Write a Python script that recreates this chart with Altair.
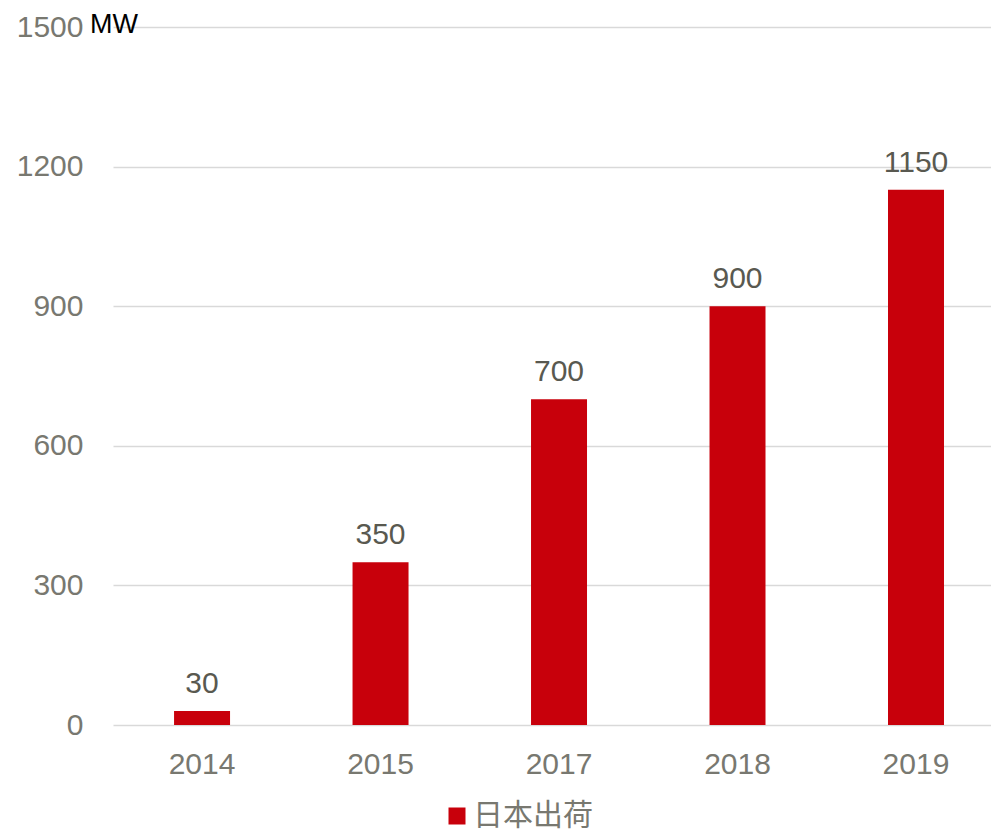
import altair as alt
import pandas as pd

years = ["2014", "2015", "2017", "2018", "2019"]
values = [30, 350, 700, 900, 1150]
series = ["日本出荷"] * len(years)
y_ticks = [0, 300, 600, 900, 1200, 1500]
y_domain = [0, 1500]
unit = "MW"

df = pd.DataFrame({"year": years, "value": values, "series": series})

FONT = "Liberation Sans, Noto Sans CJK SC"
CJK = "Noto Sans CJK SC, Liberation Sans"
RED = "#C8000B"
TICK = "#787870"
LABEL = "#595950"

yscale = alt.Scale(domain=y_domain, nice=False)

base = alt.Chart(df)

bars = base.mark_bar(color=RED).encode(
    x=alt.X("year:N", sort=years,
            scale=alt.Scale(paddingInner=0.6863, paddingOuter=0.3027, align=0.565),
            axis=alt.Axis(title=None, labelAngle=0, labelFont=FONT, labelFontSize=30,
                          labelColor=TICK, labelPadding=24, ticks=False, domain=False,
                          grid=False)),
    y=alt.Y("value:Q", scale=yscale,
            axis=alt.Axis(values=y_ticks, format="d", title=None,
                          labelFont=FONT, labelFontSize=30, labelColor=TICK,
                          labelPadding=30, ticks=False, domain=False,
                          gridColor="#d9d9d9", gridWidth=1.5)),
    fill=alt.Fill("series:N", scale=alt.Scale(range=[RED]),
                  legend=alt.Legend(title=None, orient="none", legendX=329, legendY=774,
                                    padding=0, symbolType="square", symbolSize=289,
                                    symbolStrokeWidth=0, labelFont=CJK,
                                    labelFontSize=30, labelColor=TICK,
                                    labelOffset=1)),
)

text = base.mark_text(font=FONT, fontSize=30, color=LABEL, baseline="alphabetic",
                      dy=-18).encode(
    x=alt.X("year:N", sort=years),
    y=alt.Y("value:Q", scale=yscale),
    text="value:Q",
)

unit_df = pd.DataFrame({"t": [unit]})
unit_text = alt.Chart(unit_df).mark_text(
    font=FONT, fontSize=27, color="#000000", align="left", baseline="alphabetic"
).encode(x=alt.value(-23), y=alt.value(6), text="t:N")

chart = (bars + text + unit_text).properties(
    width=878, height=698,
    autosize=alt.AutoSizeParams(type="none"),
    padding={"left": 105, "top": 19, "right": 0, "bottom": 120},
).configure_view(stroke=None)

chart.save("out.html", embed_options={"renderer": "svg", "actions": False})
